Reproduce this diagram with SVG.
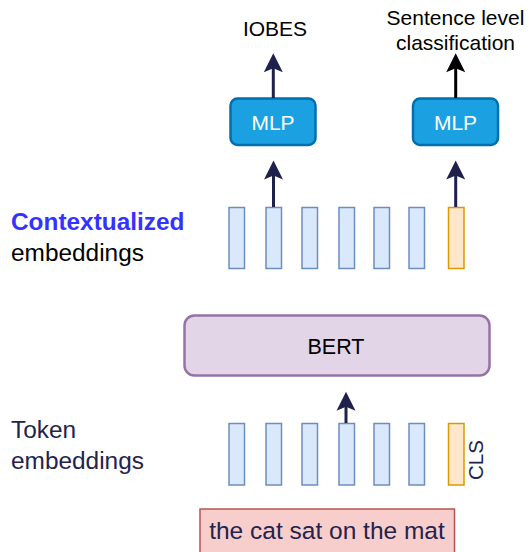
<svg xmlns="http://www.w3.org/2000/svg" width="529" height="552" viewBox="0 0 529 552">
<style>
text{font-family:"Liberation Sans",Arial,Helvetica,sans-serif}
.bar{fill:#dae8fc;stroke:#6c8ebf;stroke-width:1.5}
.cls{fill:#ffe6cc;stroke:#d79b00;stroke-width:1.5}
.mlp{fill:#1ba1e2;stroke:#006eaf;stroke-width:2.5}
.mlpt{fill:#ffffff;font-size:21px;text-anchor:middle}
.lbl{font-size:24.4px}
.navy{fill:#23234d}
.ln{stroke-width:3;fill:none}
</style>
<defs>
<path id="head" d="M0,0 L9.5,19 L0,15 L-9.5,19 Z"/>
</defs>
<rect width="529" height="552" fill="#ffffff"/>

<g id="label-contextualized">
<text x="11" y="230" class="lbl" font-weight="bold" fill="#3333ff">Contextualized</text>
<text x="11" y="261" class="lbl" fill="#000000">embeddings</text>
</g>
<g id="label-token">
<text x="11" y="438" class="lbl navy">Token</text>
<text x="11" y="468.5" class="lbl navy">embeddings</text>
</g>

<g id="output-iobes"><text x="275" y="36" font-size="21" text-anchor="middle" fill="#000">IOBES</text></g>
<g id="output-sentence">
<text x="455.5" y="25" font-size="21" text-anchor="middle" fill="#000">Sentence level</text>
<text x="455.5" y="50" font-size="21" text-anchor="middle" fill="#000">classification</text>
</g>

<g id="mlp1"><rect class="mlp" x="230.5" y="98.5" width="85" height="46.5" rx="7"/><text class="mlpt" x="273" y="129.5">MLP</text></g>
<g id="mlp2"><rect class="mlp" x="413" y="98.5" width="85" height="46.5" rx="7"/><text class="mlpt" x="455.5" y="129.5">MLP</text></g>

<g id="ctx-embeddings">
<rect class="bar" x="229" y="207.5" width="15.5" height="61"/>
<rect class="bar" x="266" y="207.5" width="15.5" height="61"/>
<rect class="bar" x="302" y="207.5" width="15.5" height="61"/>
<rect class="bar" x="339" y="207.5" width="15.5" height="61"/>
<rect class="bar" x="374" y="207.5" width="15.5" height="61"/>
<rect class="bar" x="409" y="207.5" width="15.5" height="61"/>
<rect class="cls" x="448.5" y="207.5" width="15.5" height="61"/>
</g>

<g id="bert"><rect x="184.5" y="315.5" width="305" height="60" rx="10" fill="#e1d5e7" stroke="#9673a6" stroke-width="2.5"/><text x="336" y="353.5" font-size="21.5" text-anchor="middle" fill="#000">BERT</text></g>

<g id="token-embeddings">
<rect class="bar" x="229" y="423.5" width="15.5" height="61.5"/>
<rect class="bar" x="266" y="423.5" width="15.5" height="61.5"/>
<rect class="bar" x="302" y="423.5" width="15.5" height="61.5"/>
<rect class="bar" x="339" y="423.5" width="15.5" height="61.5"/>
<rect class="bar" x="374" y="423.5" width="15.5" height="61.5"/>
<rect class="bar" x="409" y="423.5" width="15.5" height="61.5"/>
<rect class="cls" x="448.5" y="423.5" width="15.5" height="61.5"/>
<text transform="translate(483,460) rotate(-90)" font-size="20.5" text-anchor="middle" class="navy">CLS</text>
</g>

<g id="input-sentence"><rect x="200" y="509" width="254.5" height="60" fill="#f8cecc" stroke="#b85450" stroke-width="1.5"/><text x="327" y="538.5" font-size="24.5" text-anchor="middle" class="navy">the cat sat on the mat</text></g>

<g id="connectors">
<line class="ln" stroke="#20204d" x1="273.5" y1="207" x2="273.5" y2="175"/>
<use href="#head" transform="translate(273.5,160.5)" fill="#20204d"/>
<line class="ln" stroke="#20204d" x1="455.7" y1="207" x2="455.7" y2="175"/>
<use href="#head" transform="translate(455.7,160.5)" fill="#20204d"/>
<line class="ln" stroke="#20204d" x1="273.3" y1="98" x2="273.3" y2="68"/>
<use href="#head" transform="translate(273.3,53.3)" fill="#20204d"/>
<line class="ln" stroke="#000000" x1="455.7" y1="98" x2="455.7" y2="68"/>
<use href="#head" transform="translate(455.7,53.3)" fill="#000000"/>
<line class="ln" stroke="#20204d" x1="346" y1="423" x2="346" y2="406"/>
<use href="#head" transform="translate(346,391.7)" fill="#20204d"/>
</g>
</svg>
